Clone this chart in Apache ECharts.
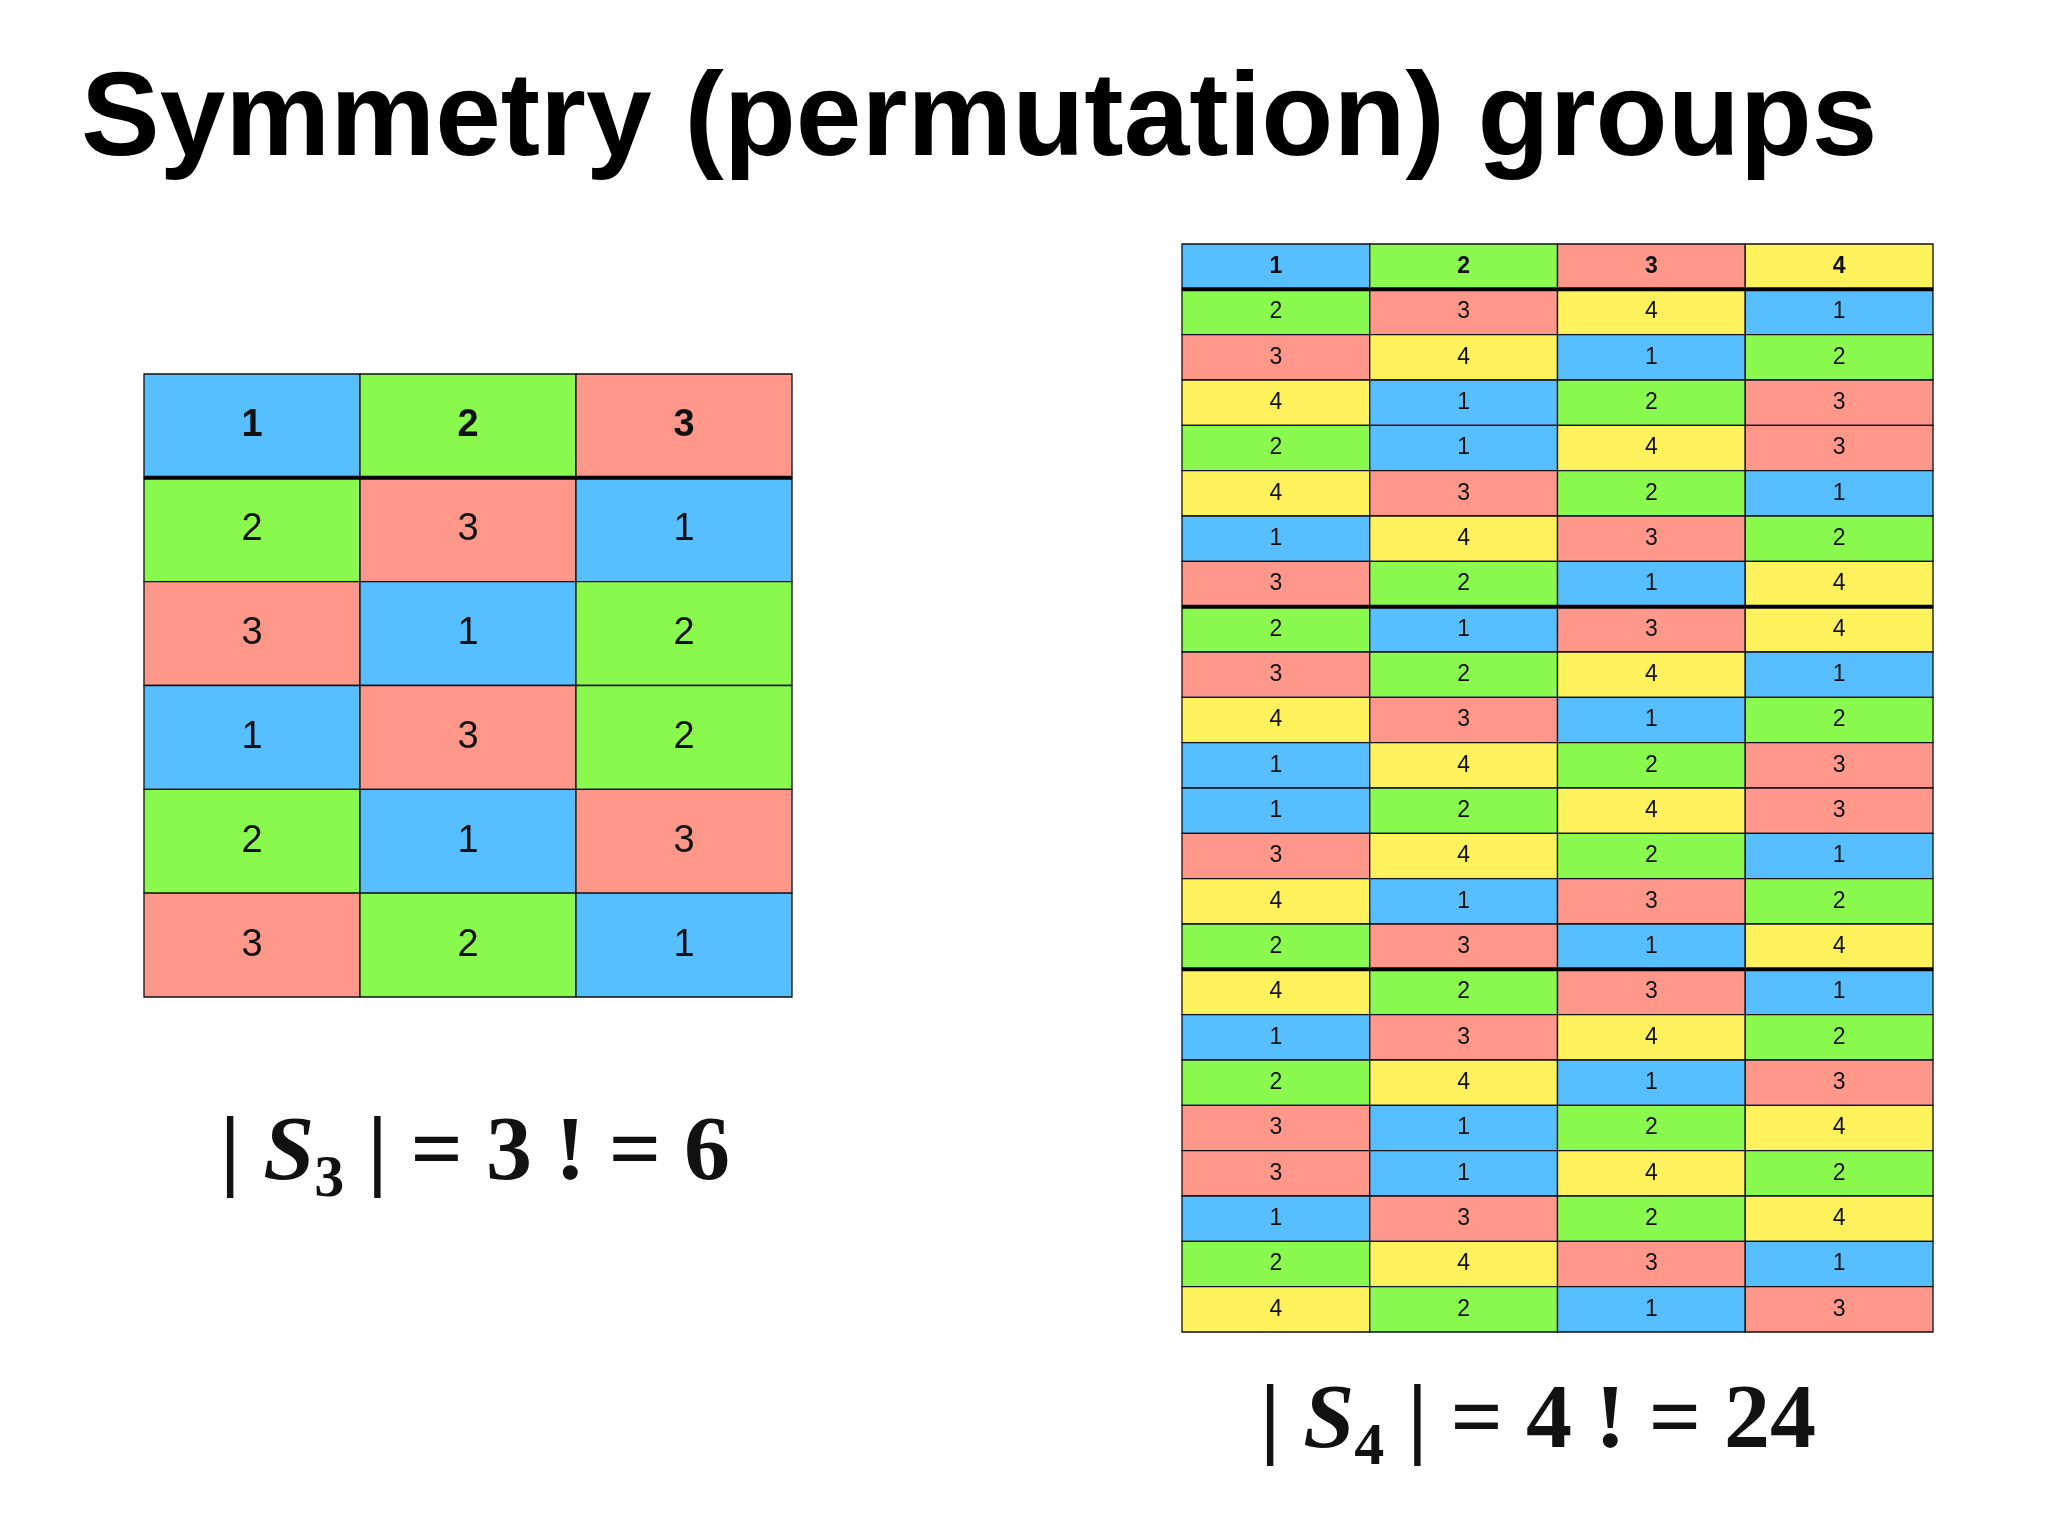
<!DOCTYPE html>
<html>
<head>
<meta charset="utf-8">
<script src="https://cdn.jsdelivr.net/npm/echarts@6/dist/echarts.min.js"></script>
<style>
  html, body { margin: 0; padding: 0; background: #fff; }
  #chart { width: 2048px; height: 1536px; }
</style>
</head>
<body>
<div id="chart"></div>
<script>
// permutation rows, first row is the header
const s3Rows = [
  [1, 2, 3],
  [2, 3, 1],
  [3, 1, 2],
  [1, 3, 2],
  [2, 1, 3],
  [3, 2, 1]
];
const s4Rows = [
  [1, 2, 3, 4],
  [2, 3, 4, 1], [3, 4, 1, 2], [4, 1, 2, 3], [2, 1, 4, 3],
  [4, 3, 2, 1], [1, 4, 3, 2], [3, 2, 1, 4],
  [2, 1, 3, 4], [3, 2, 4, 1], [4, 3, 1, 2], [1, 4, 2, 3],
  [1, 2, 4, 3], [3, 4, 2, 1], [4, 1, 3, 2], [2, 3, 1, 4],
  [4, 2, 3, 1], [1, 3, 4, 2], [2, 4, 1, 3], [3, 1, 2, 4],
  [3, 1, 4, 2], [1, 3, 2, 4], [2, 4, 3, 1], [4, 2, 1, 3]
];
// rows after which a thick separator is drawn
const s3Separators = [0];
const s4Separators = [0, 7, 15];
const valueColors = { 1: '#57bfff', 2: '#8afa4f', 3: '#ff978b', 4: '#fff25c' };

function toCells(rows) {
  const out = [];
  rows.forEach((r, i) => r.forEach((v, j) => out.push([j, i, v])));
  return out;
}

function makeRender(seps, fontSize) {
  return function (params, api) {
    const col = api.value(0), row = api.value(1), v = api.value(2);
    const c = api.coord([col, row]);
    const s = api.size([1, 1]);
    const x = c[0] - s[0] / 2, y = c[1] - s[1] / 2;
    const children = [{
      type: 'rect',
      shape: { x: x, y: y, width: s[0], height: s[1] },
      style: { fill: valueColors[v], stroke: '#111', lineWidth: 1.3 }
    }, {
      type: 'text',
      style: {
        x: c[0], y: c[1], text: String(v),
        fontSize: fontSize, fontFamily: 'Liberation Sans, Arial, sans-serif',
        fontWeight: row === 0 ? 'bold' : 'normal',
        fill: '#111', align: 'center', verticalAlign: 'middle'
      }
    }];
    if (seps.indexOf(row) >= 0) {
      children.push({
        type: 'line', z2: 10,
        shape: { x1: x, y1: y + s[1], x2: x + s[0], y2: y + s[1] },
        style: { stroke: '#000', lineWidth: 4 }
      });
    }
    return { type: 'group', children: children };
  };
}

function cats(n) { return Array.from({ length: n }, (_, i) => i); }

const chart = echarts.init(document.getElementById('chart'));
chart.setOption({
  backgroundColor: '#fff',
  animation: false,
  title: [{
    text: 'Symmetry (permutation) groups',
    left: 76, top: 58,
    textStyle: { fontSize: 118, fontWeight: 'bold', color: '#000',
      fontFamily: 'Liberation Sans, Arial, sans-serif' }
  }, {
    text: '{n|| }{i|S}{sub|3}{n| | = 3 ! = 6}',
    left: 470, top: 1095, textAlign: 'center',
    textStyle: { rich: {
      n: { fontSize: 92, fontFamily: 'Liberation Serif, serif', color: '#111' },
      i: { fontSize: 92, fontStyle: 'italic', fontFamily: 'Liberation Serif, serif', color: '#111' },
      sub: { fontSize: 60, fontFamily: 'Liberation Serif, serif', color: '#111', padding: [50, 0, 0, 0] }
    } }
  }, {
    text: '{n|| }{i|S}{sub|4}{n| | = 4 ! = 24}',
    left: 1533, top: 1363, textAlign: 'center',
    textStyle: { rich: {
      n: { fontSize: 92, fontFamily: 'Liberation Serif, serif', color: '#111' },
      i: { fontSize: 92, fontStyle: 'italic', fontFamily: 'Liberation Serif, serif', color: '#111' },
      sub: { fontSize: 60, fontFamily: 'Liberation Serif, serif', color: '#111', padding: [50, 0, 0, 0] }
    } }
  }],
  grid: [
    { left: 144, top: 374, width: 648, height: 623 },
    { left: 1182, top: 244, width: 751, height: 1088 }
  ],
  xAxis: [
    { gridIndex: 0, type: 'category', data: cats(3), show: false },
    { gridIndex: 1, type: 'category', data: cats(4), show: false }
  ],
  yAxis: [
    { gridIndex: 0, type: 'category', data: cats(s3Rows.length), inverse: true, show: false },
    { gridIndex: 1, type: 'category', data: cats(s4Rows.length), inverse: true, show: false }
  ],
  series: [{
    type: 'custom', xAxisIndex: 0, yAxisIndex: 0,
    renderItem: makeRender(s3Separators, 38),
    data: toCells(s3Rows)
  }, {
    type: 'custom', xAxisIndex: 1, yAxisIndex: 1,
    renderItem: makeRender(s4Separators, 23),
    data: toCells(s4Rows)
  }]
});
</script>
</body>
</html>
